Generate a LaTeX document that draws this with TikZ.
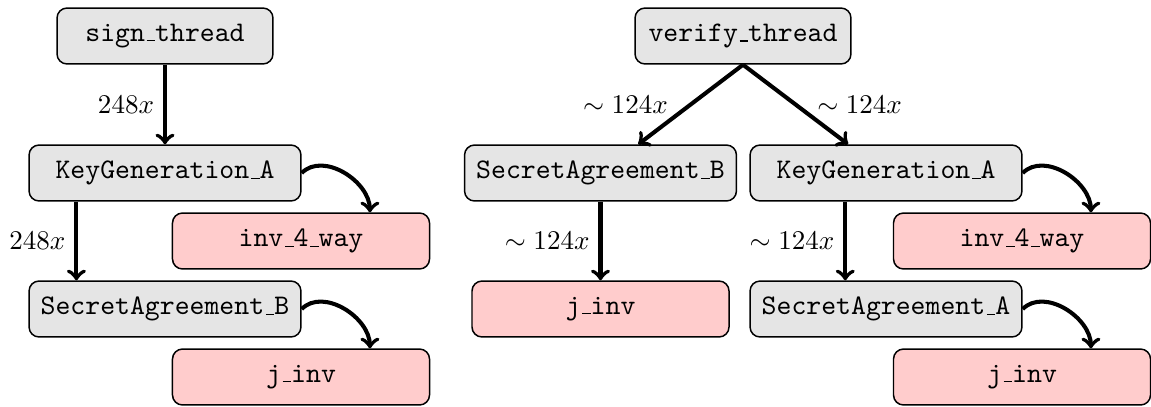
\documentclass[tikz,border=0pt]{standalone}
\usetikzlibrary{calc}
\newcommand\us{\leavevmode\kern.06em\vbox{\hrule width.3em}}
\begin{document}
\begin{tikzpicture}[x=0.37pt,y=-0.37pt,
  box/.style={draw, line width=0.55pt, rounded corners=3.7pt, minimum height=20.7pt, inner sep=0pt, font=\fontsize{10.5pt}{12.6pt}\selectfont\ttfamily},
  grey/.style={box, fill=black!10},
  pink/.style={box, fill=red!20},
  narrow/.style={minimum width=79.9pt},
  wide/.style={minimum width=100.6pt},
  mid/.style={minimum width=95.1pt},
  arr/.style={-to, line width=1.5pt},
  lab/.style={inner sep=3.33pt, font=\fontsize{10.2pt}{12.2pt}\selectfont}]
\useasboundingbox (0,0) rectangle (1151,406);
% left tree
\node[grey,narrow] (st) at (165,36) {sign\us thread};
\node[grey,wide] (kgL) at (165,173) {KeyGeneration\us A};
\node[pink,mid] (invL) at (301,241) {inv\us 4\us way};
\node[grey,wide] (sbL) at (165,309) {SecretAgreement\us B};
\node[pink,mid] (jL) at (301,377) {j\us inv};
\draw[arr] (st.south) -- node[lab,left]{$248x$} (kgL.north);
\draw[arr] ([xshift=17.8pt]kgL.south west) -- node[lab,left]{$248x$} ([xshift=17.8pt]sbL.north west);
\draw[arr] (kgL.east) to[out=45,in=90] ([xshift=25.5pt]invL.north);
\draw[arr] (sbL.east) to[out=45,in=90] ([xshift=25.5pt]jL.north);
% right tree
\node[grey,narrow] (vt) at (743,36) {verify\us thread};
\node[grey,wide] (sbR) at (600.5,173) {SecretAgreement\us B};
\node[grey,wide] (kgR) at (886,173) {KeyGeneration\us A};
\node[pink,mid] (invR) at (1022,241) {inv\us 4\us way};
\node[pink,mid] (jR1) at (600.5,309) {j\us inv};
\node[grey,wide] (saR) at (886,309) {SecretAgreement\us A};
\node[pink,mid] (jR2) at (1022,377) {j\us inv};
\draw[arr] (vt.south) -- node[lab,left,xshift=-4.4pt]{$\sim 124x$} (sbR);
\draw[arr] (vt.south) -- node[lab,right,xshift=4pt]{$\sim 124x$} (kgR);
\draw[arr] (sbR.south) -- node[lab,left]{$\sim 124x$} (jR1.north);
\draw[arr] ([xshift=35.5pt]kgR.south west) -- node[lab,left]{$\sim 124x$} ([xshift=35.5pt]saR.north west);
\draw[arr] (kgR.east) to[out=45,in=90] ([xshift=25.5pt]invR.north);
\draw[arr] (saR.east) to[out=45,in=90] ([xshift=25.5pt]jR2.north);
\end{tikzpicture}
\end{document}
